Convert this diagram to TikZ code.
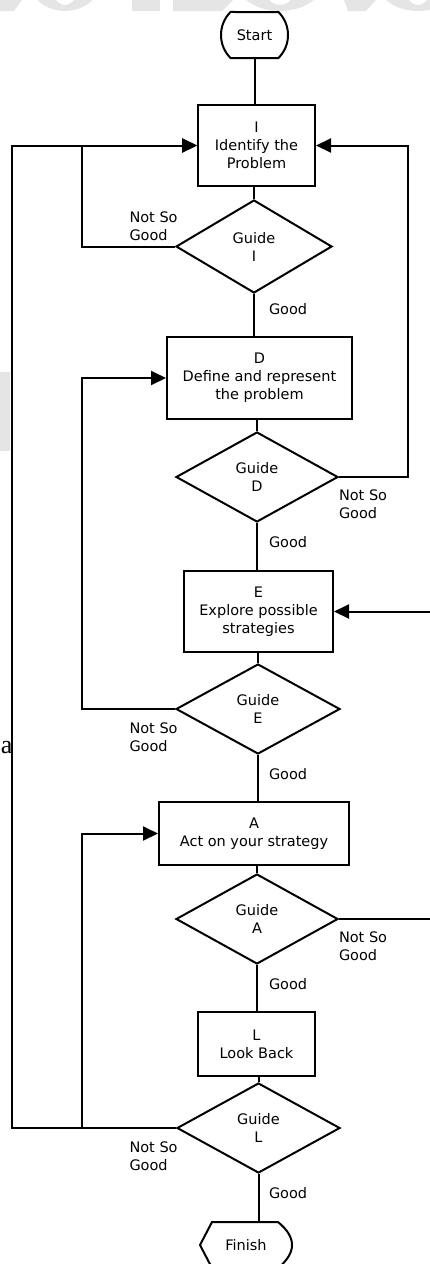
\documentclass[tikz,border=0pt]{standalone}
\usepackage{fontspec}
\setmainfont{DejaVu Sans}
\newfontfamily\serifa{Liberation Serif}
\usetikzlibrary{arrows.meta,shapes.geometric,shapes.misc}
\begin{document}
\begin{tikzpicture}[x=1pt,y=-1pt,
  line width=2pt,
  txt/.style={font=\fontsize{14.5}{18}\selectfont},
  box/.style={draw, rectangle, align=center, inner sep=0pt, txt},
  dia/.style={draw, diamond, align=center, inner sep=0pt, txt},
  lbl/.style={anchor=west, align=left, inner sep=0pt, txt},
  arr/.style={-{Triangle[length=15pt,width=14pt]}},
  wm/.style={fill=black!10, draw=none}]
\useasboundingbox (0,0) rectangle (429,1264);
% faint background marks
\fill[wm] (0,0) -- (22,0) -- (14,11) -- (0,11) -- cycle;
\fill[wm, even odd rule] (65,-20) ellipse [x radius=36, y radius=31] (65,-20) ellipse [x radius=15, y radius=25];
\fill[wm] (132,0) rectangle (160,11);
\fill[wm] (173,0) -- (233,0) -- (222,11) -- (173,11) -- cycle;
\fill[wm, even odd rule] (280,-20) ellipse [x radius=44, y radius=31] (280,-20) ellipse [x radius=18, y radius=25];
\fill[wm] (344,0) -- (376,0) -- (366,11) -- (348,11) -- cycle;
\fill[wm, even odd rule] (418,-20) ellipse [x radius=42, y radius=31] (418,-20) ellipse [x radius=15, y radius=25];
\fill[wm] (0,372) rectangle (10,451);
\node[anchor=base west, inner sep=0pt, font=\serifa\fontsize{26}{26}\selectfont] (stray) at (0,753) {a};

% nodes
\node[draw, rounded rectangle, rounded rectangle arc length=90, minimum width=67pt, minimum height=46pt, inner sep=0pt, txt] (start) at (254.5,35) {Start};
\node[box, minimum width=117pt, minimum height=81pt] (I) at (256.5,145.5) {I\\Identify the\\Problem};
\node[dia, minimum width=156pt, minimum height=93pt] (GI) at (254,246.5) {Guide\\I};
\node[box, minimum width=185pt, minimum height=82pt] (D) at (259.5,378) {D\\Define and represent\\the problem};
\node[dia, minimum width=162pt, minimum height=90pt] (GD) at (257,477) {Guide\\D};
\node[box, minimum width=149pt, minimum height=81pt] (E) at (258.5,611.5) {E\\Explore possible\\strategies};
\node[dia, minimum width=164pt, minimum height=90pt] (GE) at (258,709) {Guide\\E};
\node[box, minimum width=190pt, minimum height=63pt] (A) at (254,833.5) {A\\Act on your strategy};
\node[dia, minimum width=162pt, minimum height=90pt] (GA) at (257,919) {Guide\\A};
\node[box, minimum width=117pt, minimum height=64pt] (L) at (256.5,1044) {L\\Look Back};
\node[dia, minimum width=163pt, minimum height=90pt] (GL) at (258.5,1128) {Guide\\L};
\node[inner sep=0pt, minimum width=92pt, minimum height=46pt, txt] (finish) at (246,1245) {Finish};
\draw (212,1222) -- (278,1222) .. controls (296.7,1237.3) and (296.7,1252.7) .. (278,1268) -- (212,1268) -- (200,1245) -- cycle;

% labels
\node[lbl] (n1) at (128.5,226) {Not So\\Good};
\node[lbl] (g1) at (268,309) {Good};
\node[lbl] (n2) at (338,504) {Not So\\Good};
\node[lbl] (g2) at (268,542) {Good};
\node[lbl] (n3) at (128.5,737) {Not So\\Good};
\node[lbl] (g3) at (268,774) {Good};
\node[lbl] (n4) at (338,946) {Not So\\Good};
\node[lbl] (g4) at (268,984) {Good};
\node[lbl] (n5) at (128.5,1156) {Not So\\Good};
\node[lbl] (g5) at (268,1193) {Good};

% helper columns
\coordinate (xo) at (12,0);
\coordinate (xi) at (82,0);
\coordinate (xr) at (408,0);
\coordinate (xe) at (445,0);

% main flow
\draw (start.south) -- (start.south |- I.north);
\draw (I.south -| GI.north) -- (GI.north);
\draw (GI.south) -- (GI.south |- D.north);
\draw (D.south -| GD.north) -- (GD.north);
\draw (GD.south) -- (GD.south |- E.north);
\draw (E.south -| GE.north) -- (GE.north);
\draw (GE.south) -- (GE.south |- A.north);
\draw (A.south -| GA.north) -- (GA.north);
\draw (GA.south) -- (GA.south |- L.north);
\draw (L.south -| GL.north) -- (GL.north);
\draw (GL.south) -- (GL.south |- finish.north);

% feedback loops
\draw[arr] (GI.west) -- (GI.west -| xi) |- (I.west);
\draw[arr] (GL.west) -- (GL.west -| xo) |- (I.west);
\draw[arr] (GL.west -| xi) |- (A.west);
\draw[arr] (GE.west) -- (GE.west -| xi) |- (D.west);
\draw[arr] (GD.east) -- (GD.east -| xr) |- (I.east);
\draw[arr] (GA.east) -- (GA.east -| xe) |- (E.east);
\end{tikzpicture}
\end{document}
